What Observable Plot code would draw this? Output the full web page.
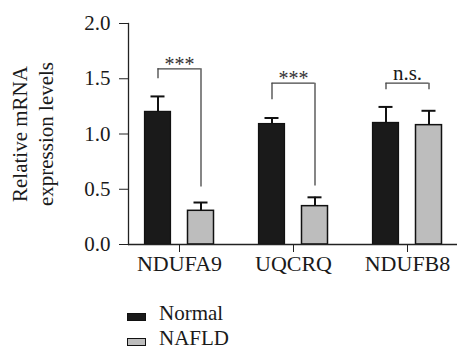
<!DOCTYPE html>
<html><head><meta charset="utf-8">
<script src="https://cdn.jsdelivr.net/npm/d3@7"></script>
<script src="https://cdn.jsdelivr.net/npm/@observablehq/plot@0.6"></script>
<style>
body{margin:0;background:#fff;font-family:"Liberation Serif","Times New Roman",serif;color:#1a1a1a;}
#chart svg{display:block}
#chart svg text{font-family:"Liberation Serif","Times New Roman",serif !important;}
#legend{padding-left:127px;padding-top:1px;font-size:21px;line-height:25px;font-family:"Liberation Serif",serif;}
.row{display:flex;align-items:center;height:25px}
.sw{display:inline-block;width:19px;height:8px;border:1.3px solid #111;box-sizing:border-box;margin-right:13px;position:relative;top:3px}
</style></head><body><div id="chart"></div><div id="legend"></div>
<script>
const genes = ["NDUFA9", "UQCRQ", "NDUFB8"];
const groups = ["Normal", "NAFLD"];
const normalMean = [1.20, 1.09, 1.10];
const normalErr = [0.14, 0.055, 0.145];
const nafldMean = [0.305, 0.347, 1.08];
const nafldErr = [0.075, 0.08, 0.13];
const sigLabels = ["***", "***", "n.s."];
const bracketTop = [1.59, 1.46, 1.46];
const bracketLeftEnd = [1.50, 1.31, 1.40];
const bracketRightEnd = [0.52, 0.53, 1.40];
const groupColors = ["#1a1a1a", "#bdbdbd"];
const yTicks = [0, 0.5, 1, 1.5, 2];

const normal = genes.map((g, i) => ({gene: g, mean: normalMean[i], top: normalMean[i] + normalErr[i]}));
const nafld = genes.map((g, i) => ({gene: g, mean: nafldMean[i], top: nafldMean[i] + nafldErr[i]}));
const sig = genes.map((g, i) => ({gene: g, label: sigLabels[i], top: bracketTop[i], left: bracketLeftEnd[i], right: bracketRightEnd[i]}));

const off = 21.5;
const ink = "#222";
const serif = "Liberation Serif";

const chart = Plot.plot({
  width: 457,
  height: 300,
  marginLeft: 128,
  marginRight: 0,
  marginTop: 23,
  marginBottom: 56,
  style: {fontFamily: serif, fontSize: "21px", color: "#1a1a1a", background: "white"},
  x: {domain: genes, paddingInner: 0.774, paddingOuter: 0.3175},
  y: {domain: [0, 2]},
  marks: [
    Plot.barY(normal, {x: "gene", y: "mean", dx: -off, fill: groupColors[0], stroke: "#111", strokeWidth: 1.2}),
    Plot.barY(nafld, {x: "gene", y: "mean", dx: off, fill: groupColors[1], stroke: "#111", strokeWidth: 1.5}),
    Plot.ruleX(normal, {x: "gene", y1: "mean", y2: "top", dx: -off, stroke: "#111", strokeWidth: 2}),
    Plot.ruleX(nafld, {x: "gene", y1: "mean", y2: "top", dx: off, stroke: "#111", strokeWidth: 2}),
    Plot.tickY(normal, {x: "gene", y: "top", dx: -off, insetLeft: 6, insetRight: 6, stroke: "#111", strokeWidth: 2}),
    Plot.tickY(nafld, {x: "gene", y: "top", dx: off, insetLeft: 6, insetRight: 6, stroke: "#111", strokeWidth: 2}),
    Plot.ruleX(sig, {x: "gene", y1: "left", y2: "top", dx: -off, stroke: "#444", strokeWidth: 1.3}),
    Plot.ruleX(sig, {x: "gene", y1: "right", y2: "top", dx: off, stroke: "#444", strokeWidth: 1.3}),
    Plot.ruleY(sig, {x1: "gene", x2: "gene", y: "top", insetLeft: -(off - 13), insetRight: -(off - 13), stroke: "#444", strokeWidth: 1.3}),
    Plot.text(sig.filter(d => d.label !== "n.s."), {x: "gene", y: "top", text: "label", lineAnchor: "bottom", dy: 2, fontSize: 20, fontFamily: serif, fill: "#333"}),
    Plot.text(sig.filter(d => d.label === "n.s."), {x: "gene", y: "top", text: "label", lineAnchor: "bottom", dy: -3, fontSize: 21, fontFamily: serif, fill: "#1a1a1a"}),
    Plot.ruleY([0], {stroke: ink, strokeWidth: 1.3}),
    Plot.frame({anchor: "left", stroke: ink, strokeWidth: 1.3}),
    Plot.axisY({ticks: yTicks, tickFormat: d3.format(".1f"), tickSize: 9, tickPadding: 9, label: null, fontSize: 21, fontFamily: serif, fontVariant: "normal", stroke: ink}),
    Plot.axisX({tickSize: 8, tickPadding: 3, label: null, fontSize: 22, fontFamily: serif, stroke: ink}),
    Plot.text(["Relative mRNA\nexpression levels"], {text: d => d, frameAnchor: "left", dx: -96.5, rotate: -90, lineHeight: 1.2, lineAnchor: "middle", textAnchor: "middle", fontSize: 21, fontFamily: serif, fill: "#1a1a1a"})
  ]
});
document.getElementById("chart").appendChild(chart);

const legend = document.getElementById("legend");
groups.forEach((g, i) => {
  const row = document.createElement("div");
  row.className = "row";
  const sw = document.createElement("span");
  sw.className = "sw";
  sw.style.background = groupColors[i];
  row.appendChild(sw);
  const t = document.createElement("span");
  t.textContent = g;
  row.appendChild(t);
  legend.appendChild(row);
});
</script></body></html>
